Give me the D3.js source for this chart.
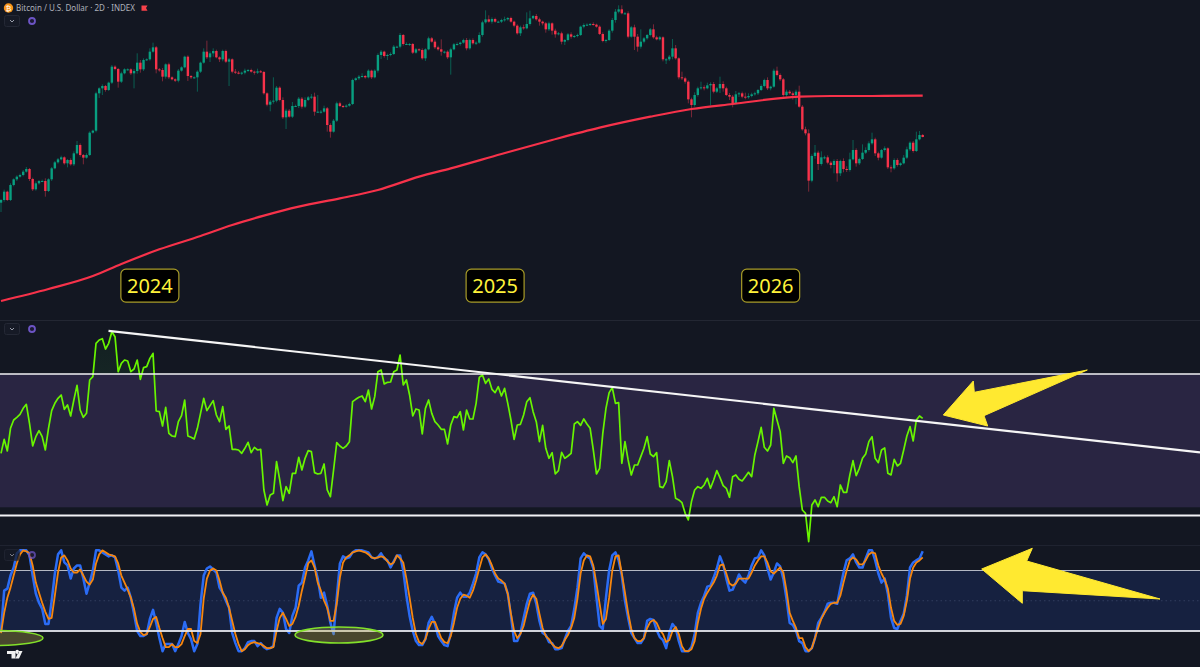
<!DOCTYPE html>
<html>
<head>
<meta charset="utf-8">
<script src="https://cdn.jsdelivr.net/npm/d3@7"></script>
<style>html,body{margin:0;padding:0;background:#131722;overflow:hidden}svg{display:block}</style>
</head>
<body>
<svg id="c" width="1200" height="667"></svg>
<script>
const title = "Bitcoin / U.S. Dollar · 2D · INDEX";
const yearLabels = ["2024", "2025", "2026"];
const yearBars = [47, 156, 243];
const rsiBands = [70, 30];
const stochBands = [80, 20];

// price index: closes, wick lengths above and below the body
const closes = [400,425,400,445,462,470,475,485,493,463,
432,450,457,457,427,462,495,513,522,528,
510,520,507,540,565,535,527,535,602,608,
720,735,742,730,752,800,793,755,780,792,
792,780,787,812,792,820,822,845,858,792,
790,770,807,768,762,758,788,798,830,772,
768,768,785,812,845,828,840,847,828,822,
847,815,822,785,782,780,782,788,790,785,
782,786,784,720,686,695,698,737,700,648,
668,650,682,682,704,680,700,708,710,665,
665,665,675,625,605,638,690,682,680,683,
688,760,765,770,772,768,788,768,788,835,
845,832,835,838,860,860,895,
868,868,868,842,852,850,825,852,885,875,
858,852,845,845,828,852,867,868,872,880,
855,880,870,872,895,933,942,935,943,935,
935,940,942,946,935,923,900,918,915,928,
945,952,942,935,930,912,930,908,897,900,
875,880,897,890,892,895,920,925,926,928,
926,920,898,877,880,908,940,965,972,960,
960,890,918,890,860,875,885,895,912,888,
882,888,822,822,830,855,825,768,765,755,
702,685,715,735,738,735,744,748,725,735,
748,735,715,710,690,717,720,710,708,712,
717,720,730,742,760,735,740,788,775,762,
715,725,720,715,725,
680,612,600,458,532,542,508,528,528,512,
505,517,480,517,493,490,522,550,510,523,
542,550,570,582,540,527,550,555,498,495,
520,505,510,527,552,572,547,582,595,589];
const wickUp = [3,6,3,5,3,4,4,5,6,3,
4,6,3,4,8,3,4,4,4,5,
3,3,5,6,12,5,3,5,4,3,
5,3,5,3,3,5,4,3,5,3,
3,3,6,28,8,5,3,10,14,4,
4,6,3,5,3,3,5,3,3,4,
3,3,4,3,10,33,6,8,4,3,
4,4,4,3,8,5,3,6,3,4,
3,8,4,3,3,5,70,5,4,8,
6,5,12,4,5,5,8,4,8,12,
50,5,8,4,5,5,5,5,3,4,
4,4,3,5,8,3,4,3,4,5,
5,3,4,5,5,3,6,3,5,3,
3,4,3,5,3,5,4,6,5,30,
3,4,5,4,5,3,4,6,4,5,
4,8,5,27,12,5,4,3,4,8,
3,4,3,4,5,8,35,23,3,6,
5,3,4,5,3,6,4,5,3,4,
6,3,4,3,5,4,3,5,3,4,
5,3,4,6,8,12,12,4,6,4,
8,8,37,4,3,4,15,5,4,3,
4,5,28,10,3,17,5,4,5,8,
5,17,6,8,5,6,4,22,8,5,
6,5,10,4,5,12,8,5,5,3,
5,4,8,3,6,12,5,4,6,5,
6,6,18,5,8,12,5,23,6,18,
5,6,5,5,6,4,8,8,20,30,
5,4,25,8,6,20,5,5,3,6,
3,6,5,5,3,8,8,4,5,23,
12,3];
const wickDown = [28,5,3,3,4,5,3,4,3,6,
5,4,4,3,17,3,5,3,4,3,
4,12,4,5,3,5,20,3,3,3,
5,14,20,5,3,4,4,18,4,3,
4,5,45,8,10,5,3,4,3,12,
5,14,6,5,3,4,5,3,3,15,
5,4,43,4,3,5,14,10,3,8,
6,4,73,5,4,3,5,5,4,3,
6,4,3,4,5,20,6,5,4,5,
35,3,4,3,6,6,4,3,5,12,
4,6,3,20,18,3,4,3,4,3,
3,3,4,5,3,4,3,5,3,6,
12,5,12,4,3,4,5,5,3,6,
4,3,4,4,8,3,3,5,4,12,
6,5,52,3,4,5,3,6,4,4,
5,3,5,4,3,6,3,3,4,5,
4,3,5,4,8,4,3,5,3,4,
12,6,10,5,12,10,3,8,10,4,
6,4,4,3,5,3,4,3,3,3,
4,5,3,6,8,5,3,3,5,3,
40,15,6,5,4,4,4,3,4,6,
14,5,8,4,6,5,6,12,37,5,
5,4,6,3,60,5,4,14,10,3,
10,12,3,8,5,6,4,4,4,5,
3,4,5,6,3,4,5,5,5,4,
14,28,3,4,6,33,5,8,18,5,
6,5,10,25,25,8,10,6,5,3,
10,5,3,4,5,4,8,8,3,5,
5,12,4,5,4,3,4,5,5,3,
3,1];
// long moving average, read at the listed bars
const maBars = [0,15,29,38,50,63,73,83,94,107,119,132,142,158,174,189,205,218,231,252,262,275,291];
const maValues = [97,133,172,208,252,292,325,353,380,405,430,470,495,538,580,617,650,673,688,710,712,712,713];

const rsi = [46.2,50.4,46.9,53.7,56.2,57,57.9,59.7,60.9,55.2,
48.4,51.2,53,51.2,47.2,53.7,59,61.2,62.7,63.7,
59.4,60.7,57.4,62.2,66.6,59.2,57,58.2,68.2,69.2,
79.2,80.2,80.6,77.5,79.2,82.7,81.2,70.7,73.2,74.2,
73.9,70.7,71.5,74.2,68.4,71.9,72.2,74.7,76.2,58.9,
58.7,54.4,60,52.2,51.4,51.2,55.7,57.5,62.2,51.4,
51,50.5,53.7,58.2,62.7,59,60.5,62,57.7,55.7,
60.2,53.4,54.4,47.4,47.4,47.2,46.2,47.7,49.5,46.4,
48,47.2,47.4,35.2,30.7,33.7,34.2,43.7,38.2,32,
36.2,34.2,40.2,40.2,45,41.2,44.7,47,46.7,40.4,
40,40.2,43,35.2,33.2,41.2,49.4,48.4,47.7,48.4,
49.7,61.7,62.4,63,63.4,61.7,65.2,59.5,63.2,70.7,
71.2,67,67.5,67.6,70.7,71.2,
75.7,66.7,68.2,63.7,57.4,59.5,59.2,52,59.7,62.2,
58.2,55.7,54.7,53.4,53.4,49,54.7,57.2,56.9,58.7,
53.2,59.2,56.5,56.5,61.2,69,69.7,67.2,68.5,65.4,
64.4,66.2,63.4,65.7,61.2,56.2,50.4,54.7,54.9,57.7,
61.7,62.9,58.7,55.7,49.7,54.6,47.7,44.7,46.4,40,
41,46.5,44.7,45.4,46.2,55,55.7,54.6,56.5,55,
53.7,47.2,40,41.7,52.2,59.7,64.4,65.9,61.2,61.4,
43.2,49.7,44.2,39.7,42.7,42.7,45.2,47.7,51.2,46,
45.2,46.4,36.2,35.9,37.7,44,39.2,32.7,32.2,31.4,
28.2,26.2,31.7,35.2,36.2,35.7,36.7,38.7,35.7,38.2,
41,38.9,36.5,35.7,33,39.2,39.7,38.4,37.9,39.2,
40.5,39.2,45.7,49.7,54,48,46.9,48.7,59.7,56.2,
52.7,43.2,45.4,44.9,43.4,45.4,
36.2,29.2,28.2,19.7,30.7,32.2,30.2,33,33,31.9,
31.4,33.2,30.2,36.7,34.5,34.5,39.7,44,39.5,41.7,
44.7,46,49.7,51.2,44.7,43.4,47.2,47.8,40.2,39.7,
44.4,42.4,43.2,47.2,51.4,54.2,49.9,56.2,57.4,56.7];

const stochK = [20,60,62,75,83,97,100,100,100,95,
75,57,48,42,27,27,50,77,96,100,
88,85,72,82,85,85,72,57,68,80,
100,100,98,96,94,95,93,80,63,60,
63,53,37,20,15,15,17,32,41,28,
13,0,7,7,7,0,7,15,29,18,
12,0,7,47,75,82,84,81,78,63,
58,50,43,18,8,0,0,3,9,10,
10,5,8,4,2,3,5,33,42,38,
22,18,35,43,65,68,83,90,99,85,
72,53,58,45,28,17,53,87,94,92,
93,98,100,100,100,99,98,93,92,93,
97,92,90,83,89,95,
95,80,55,35,20,10,6,6,12,28,
34,27,15,10,6,5,18,38,53,58,
54,54,58,67,77,93,98,96,91,82,
75,69,68,67,57,35,10,10,18,33,
47,57,58,47,30,18,16,9,8,2,
2,3,12,20,25,42,63,92,97,94,
92,82,53,25,22,53,80,95,98,90,
75,50,33,18,13,8,8,13,30,32,
31,21,14,11,3,18,27,23,10,0,
0,0,4,17,38,48,55,64,65,73,
82,94,86,72,60,61,68,76,71,68,
75,85,92,93,100,95,82,71,78,87,
84,72,52,28,26,20,10,
8,0,0,3,13,28,33,39,47,
48,48,47,63,78,90,92,96,88,83,
83,92,100,100,90,77,68,72,57,33,
23,22,30,37,55,83,88,90,92,99];
const stochD = [18,38,53,63,75,87,96,100,99,97,
85,68,58,48,39,32,33,55,78,93,
95,90,82,78,78,81,75,69,66,71,
87,96,100,98,96,95,94,87,75,68,
61,53,42,27,19,16,17,24,32,34,
23,13,4,4,7,4,4,7,15,22,
22,10,8,17,52,72,80,82,80,70,
58,53,43,30,17,7,0,2,6,8,
9,8,7,5,3,3,4,20,33,38,
32,25,27,34,45,60,73,87,90,83,
68,60,50,43,30,30,47,73,88,93,
95,98,99,100,99,98,96,93,92,93,
94,93,89,86,88,95,
92,88,72,53,33,17,9,7,12,22,
29,29,21,13,9,8,15,28,43,52,
56,55,53,60,70,82,93,96,92,85,
77,72,70,67,57,37,20,13,17,25,
38,50,56,52,37,23,15,12,7,4,
3,5,11,16,23,33,52,77,90,95,
94,85,67,47,27,32,53,80,94,95,
77,58,38,22,13,10,10,13,23,29,
31,28,21,17,9,11,20,24,17,5,
0,0,2,10,28,42,52,58,63,68,
75,85,86,77,67,65,67,72,72,72,
72,78,85,90,94,94,88,79,77,80,
83,78,60,38,30,23,13,
13,4,0,3,13,23,32,38,43,
47,48,48,55,68,80,90,93,91,86,
86,90,96,98,97,85,77,71,62,43,
30,26,27,35,50,72,83,88,90,93];

const W = 1200, H = 667;
const n = closes.length;
const x = d3.scaleLinear().domain([0, n - 1]).range([1, 922.7]);
const yP = d3.scaleLinear().domain([40, 1000]).range([320, 0]);
const yR = d3.scaleLinear().domain([30, 70]).range([507.3, 374]);
const yS = d3.scaleLinear().domain([20, 80]).range([631, 570.5]);
const svg = d3.select("#c");
const bg = "#131722";
svg.append("rect").attr("width", W).attr("height", H).attr("fill", bg);

// panes
svg.append("line").attr("x1",0).attr("x2",W).attr("y1",320.5).attr("y2",320.5).attr("stroke","#232733");
svg.append("line").attr("x1",0).attr("x2",W).attr("y1",545.5).attr("y2",545.5).attr("stroke","#1f2330");
svg.append("rect").attr("x",0).attr("width",W).attr("y",yR(70)).attr("height",yR(30)-yR(70)).attr("fill","#292542");
svg.append("rect").attr("x",0).attr("width",W).attr("y",yS(80)).attr("height",yS(20)-yS(80)).attr("fill","#162140");
svg.append("line").attr("x1",0).attr("x2",W).attr("y1",yS(50)).attr("y2",yS(50)).attr("stroke","#3a4566").attr("stroke-dasharray","1.5 3").attr("stroke-width",0.8);

// candles
const up = "#089f80", dn = "#f7324a";
const idx = d3.range(n);
const openOf = i => i === 0 ? closes[0] - 8 : closes[i - 1];
const candles = svg.append("g");
candles.selectAll("line").data(idx).join("line")
  .attr("x1", x).attr("x2", x)
  .attr("y1", i => yP(Math.max(openOf(i), closes[i]) + wickUp[i]))
  .attr("y2", i => yP(Math.min(openOf(i), closes[i]) - wickDown[i]))
  .attr("stroke", i => closes[i] >= openOf(i) ? "#0a5f52" : "#7a2838").attr("stroke-width", 1);
candles.selectAll("rect").data(idx).join("rect")
  .attr("x", i => x(i) - 1.2).attr("width", 2.4)
  .attr("y", i => yP(Math.max(openOf(i), closes[i])))
  .attr("height", i => Math.max(1, Math.abs(yP(openOf(i)) - yP(closes[i]))))
  .attr("fill", i => closes[i] >= openOf(i) ? up : dn);

// moving average
svg.append("path").datum(d3.zip(maBars, maValues))
  .attr("d", d3.line().x(d => x(d[0])).y(d => yP(d[1])).curve(d3.curveMonotoneX))
  .attr("fill", "none").attr("stroke", dn).attr("stroke-width", 2.2);

// year tags
const tags = svg.append("g").selectAll("g").data(yearLabels).join("g")
  .attr("transform", (d, j) => `translate(${x(yearBars[j])},285.6)`);
tags.append("rect").attr("x",-29).attr("y",-16.5).attr("width",58).attr("height",33).attr("rx",5)
  .attr("fill","#000").attr("stroke","#a89c28").attr("stroke-width",1.2);
tags.append("text").text(d => d).attr("text-anchor","middle").attr("y",7.2)
  .attr("font-family","'Noto Sans','DejaVu Sans',sans-serif").attr("font-size",20).attr("fill","#fff23a");

// RSI
const defs = svg.append("defs");
const gr = defs.append("linearGradient").attr("id","ob").attr("x1",0).attr("x2",0).attr("y1",0).attr("y2",1);
gr.append("stop").attr("offset","0").attr("stop-color","#131f22");
gr.append("stop").attr("offset","1").attr("stop-color","#1f3d2c");
defs.append("clipPath").attr("id","above").append("rect").attr("x",0).attr("y",321).attr("width",W).attr("height",yR(70)-321);
svg.append("path").datum(idx)
  .attr("d", d3.area().x(x).y0(yR(70)).y1(i => yR(rsi[i])))
  .attr("fill","url(#ob)").attr("clip-path","url(#above)");
svg.append("path").datum(idx)
  .attr("d", d3.line().x(x).y(i => yR(rsi[i])))
  .attr("fill","none").attr("stroke","#68f500").attr("stroke-width",1.7).attr("stroke-linejoin","round");
svg.append("line").attr("x1",0).attr("x2",W).attr("y1",yR(70)).attr("y2",yR(70)).attr("stroke","#f2f2f5").attr("stroke-width",1.6);
svg.append("line").attr("x1",0).attr("x2",W).attr("y1",515.5).attr("y2",515.5).attr("stroke","#f2f2f5").attr("stroke-width",2);
svg.append("line").attr("x1",108.5).attr("y1",330.8).attr("x2",1200).attr("y2",452.3).attr("stroke","#f5f5f5").attr("stroke-width",2.2);

// Stochastic
svg.append("line").attr("x1",0).attr("x2",W).attr("y1",yS(80)).attr("y2",yS(80)).attr("stroke","#b4b8c4").attr("stroke-width",1.2);
const sLine = arr => d3.line().x(x).y(i => yS(arr[i]));
svg.append("path").datum(idx).attr("d", sLine(stochK)).attr("fill","none").attr("stroke","#2b6cf5").attr("stroke-width",2.5).attr("stroke-linejoin","round");
svg.append("path").datum(idx).attr("d", sLine(stochD)).attr("fill","none").attr("stroke","#f7860e").attr("stroke-width",1.8).attr("stroke-linejoin","round");
svg.append("line").attr("x1",0).attr("x2",W).attr("y1",yS(20)).attr("y2",yS(20)).attr("stroke","#e6e8ee").attr("stroke-width",1.8).attr("opacity",0.9);

// annotations
[[-5,638,48,7.5],[339,635,44,8]].forEach(e => {
  svg.append("ellipse").attr("cx",e[0]).attr("cy",e[1]).attr("rx",e[2]).attr("ry",e[3])
    .attr("fill","rgba(190,175,70,0.32)").attr("stroke","#82e02a").attr("stroke-width",1.6);
});
const arrows = [
  [[943.3,415],[973.3,381],[974.3,392.3],[1087.3,370],[984,415.7],[987.7,426]],
  [[981.7,569],[1032.3,548.3],[1026.7,561],[1160,599],[1022.3,590.7],[1022.3,603.3]]
];
arrows.forEach(a => svg.append("polygon").attr("points", a.join(" "))
  .attr("fill","#ffe930").attr("stroke","#ffe930").attr("stroke-width",1).attr("stroke-linejoin","round"));

// header & pane controls
const hdr = svg.append("g");
hdr.append("circle").attr("cx",8.5).attr("cy",8).attr("r",4.7).attr("fill","#f7931a");
hdr.append("text").text("₿").attr("x",8.5).attr("y",10.8).attr("text-anchor","middle").attr("font-size",7.5).attr("fill","#fff").attr("font-family","'DejaVu Sans',sans-serif");
hdr.append("text").text(title).attr("x",16).attr("y",11).attr("font-family","'Noto Sans',Roboto,sans-serif").attr("font-size",8.6).attr("textLength",119).attr("lengthAdjust","spacingAndGlyphs").attr("fill","#aeb1ba");
hdr.append("path").attr("d","M141.5 5.5H147.5L146 8L147.5 10.8H141.5Z").attr("fill","#f7424a");
[21, 329, 555].forEach((cy, j) => {
  const g = svg.append("g").attr("opacity", j === 2 ? 0.75 : 1);
  g.append("rect").attr("x",4.5).attr("y",cy-5.5).attr("width",15).attr("height",11).attr("rx",2).attr("fill","#161a26").attr("stroke","#242835");
  g.append("path").attr("d",`M10 ${cy-1}L12 ${cy+1}L14 ${cy-1}`).attr("fill","none").attr("stroke","#9a9eaa").attr("stroke-width",1);
  g.append("circle").attr("cx",32).attr("cy",cy).attr("r",3).attr("fill","#1c1a33").attr("stroke","#6c54c4").attr("stroke-width",1.8);
});
svg.append("path").attr("d","M7 651H15.5V658.5H11.5V654H7ZM15.7 651.8a1.6 1.6 0 1 0 3 0a1.6 1.6 0 1 0 -3 0ZM19 651H22.5L19 658.5H15.5Z").attr("fill","#f0f0f0");
</script>
</body>
</html>
